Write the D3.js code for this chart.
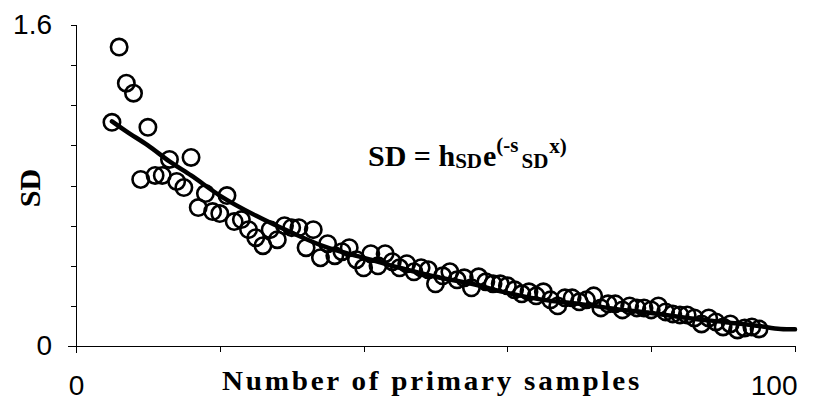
<!DOCTYPE html>
<html>
<head>
<meta charset="utf-8">
<script src="https://cdn.jsdelivr.net/npm/d3@7/dist/d3.min.js"></script>
<style>
  html, body { margin: 0; padding: 0; background: #fff; }
  svg { display: block; }
</style>
</head>
<body>
<svg id="chart" width="821" height="400"></svg>
<script>
// ---- data ----
const sampleCounts = [5,6,7,8,9,10,11,12,13,14,15,16,17,18,19,20,21,22,23,24,25,26,27,28,29,30,
  31,32,33,34,35,36,37,38,39,40,41,42,43,44,45,46,47,48,49,50,51,52,53,54,55,56,57,58,59,60,
  61,62,63,64,65,66,67,68,69,70,71,72,73,74,75,76,77,78,79,80,81,82,83,84,85,86,87,88,89,90,
  91,92,93,94,95];
const sdValues = [1.115,1.49,1.31,1.26,0.83,1.09,0.85,0.85,0.93,0.82,0.79,0.94,0.69,0.76,0.67,0.66,0.75,0.62,0.63,0.58,0.54,0.50,0.58,0.53,0.60,0.59,
  0.59,0.49,0.58,0.44,0.51,0.45,0.47,0.49,0.43,0.39,0.46,0.40,0.46,0.42,0.39,0.41,0.37,0.39,0.38,0.31,0.35,0.37,0.33,0.34,0.29,0.345,0.32,0.31,0.31,0.30,
  0.28,0.26,0.27,0.25,0.27,0.23,0.20,0.24,0.24,0.22,0.23,0.25,0.19,0.21,0.21,0.18,0.20,0.19,0.19,0.18,0.20,0.17,0.16,0.155,0.155,0.14,0.11,0.14,0.12,0.095,
  0.11,0.08,0.09,0.095,0.085];
const fitX = [5,7,10,13,16,20,25,30,35,40,45,50,55,60,65,70,75,80,85,90,95,98,100];
const fitY = [1.12,1.07,1.00,0.92,0.85,0.75,0.65,0.565,0.49,0.44,0.39,0.345,0.31,0.265,0.23,0.21,0.185,0.165,0.14,0.12,0.10,0.085,0.083];
const xTickValues = [0,20,40,60,80,100];
const yTickValues = [0,0.2,0.4,0.6,0.8,1.0,1.2,1.4,1.6];
const xLabeled = [0,100];
const yLabeled = [0,1.6];
const xTitle = "Number of primary samples";
const yTitle = "SD";

// ---- layout ----
const svg = d3.select("#chart");
const x = d3.scaleLinear().domain([0,100]).range([76,795]);
const y = d3.scaleLinear().domain([0,1.6]).range([346,25]);

// axes
const yAxis = d3.axisLeft(y).tickValues(yTickValues).tickSize(5).tickPadding(19)
  .tickFormat(d => yLabeled.some(v => Math.abs(v-d) < 1e-9) ? (d === 0 ? "0" : d3.format(".1f")(d)) : "");
const yg = svg.append("g").attr("transform", `translate(${x(0)},0)`).call(yAxis);
yg.select(".domain").attr("d", `M0,${y(1.6)}V${y(0)+7}`);

const xAxis = d3.axisBottom(x).tickValues(xTickValues).tickSize(6).tickPadding(23)
  .tickFormat(d => xLabeled.includes(d) ? String(d) : "");
const xg = svg.append("g").attr("transform", `translate(0,${y(0)})`).call(xAxis);
xg.select(".domain").attr("d", `M${x(0)-8},0H${x(100)}`);
xg.selectAll(".tick").filter(d => d === 100).select("text").attr("text-anchor","end").attr("x", 2);

[yg, xg].forEach(g => {
  g.selectAll("path, line").attr("stroke", "#000").attr("stroke-width", 1).attr("shape-rendering","crispEdges");
  g.selectAll("text").attr("font-family", "'Liberation Sans', Arial, sans-serif").attr("font-size", 28).attr("fill", "#000");
});

// fitted line
const line = d3.line().x((d,i) => x(fitX[i])).y(d => y(d)).curve(d3.curveMonotoneX);
svg.append("path").datum(fitY)
  .attr("d", line).attr("fill","none").attr("stroke","#000")
  .attr("stroke-width", 4.5).attr("stroke-linecap","round").attr("stroke-linejoin","round");

// data points
svg.append("g").selectAll("circle").data(sdValues).join("circle")
  .attr("cx", (d,i) => x(sampleCounts[i])).attr("cy", d => y(d))
  .attr("r", 8.2).attr("fill","none").attr("stroke","#000").attr("stroke-width", 2.6);

// axis titles
svg.append("text").attr("x", 222).attr("y", 390)
  .attr("font-family","'Liberation Serif','Times New Roman',serif").attr("font-weight","bold")
  .attr("font-size", 26.5).attr("textLength", 420).attr("lengthAdjust","spacingAndGlyphs")
  .attr("letter-spacing", 2.5)
  .text(xTitle);

svg.append("text").attr("transform","translate(40,188) rotate(-90)")
  .attr("text-anchor","middle")
  .attr("font-family","'Liberation Serif','Times New Roman',serif").attr("font-weight","bold")
  .attr("font-size", 30).text(yTitle);

// formula
const f = svg.append("text").attr("x", 368).attr("y", 166)
  .attr("font-family","'Liberation Serif','Times New Roman',serif").attr("font-weight","bold")
  .attr("font-size", 30);
f.append("tspan").text("SD = h");
f.append("tspan").attr("font-size", 21).attr("dy", 2).text("SD");
f.append("tspan").attr("dy", -2).attr("dx", 1).text("e");
f.append("tspan").attr("font-size", 21).attr("dy", -14).text("(-s");
f.append("tspan").attr("font-size", 21).attr("dy", 16).attr("dx", 3).text("SD");
f.append("tspan").attr("font-size", 21).attr("dy", -15).attr("dx", 1).text("x)");
</script>
</body>
</html>
